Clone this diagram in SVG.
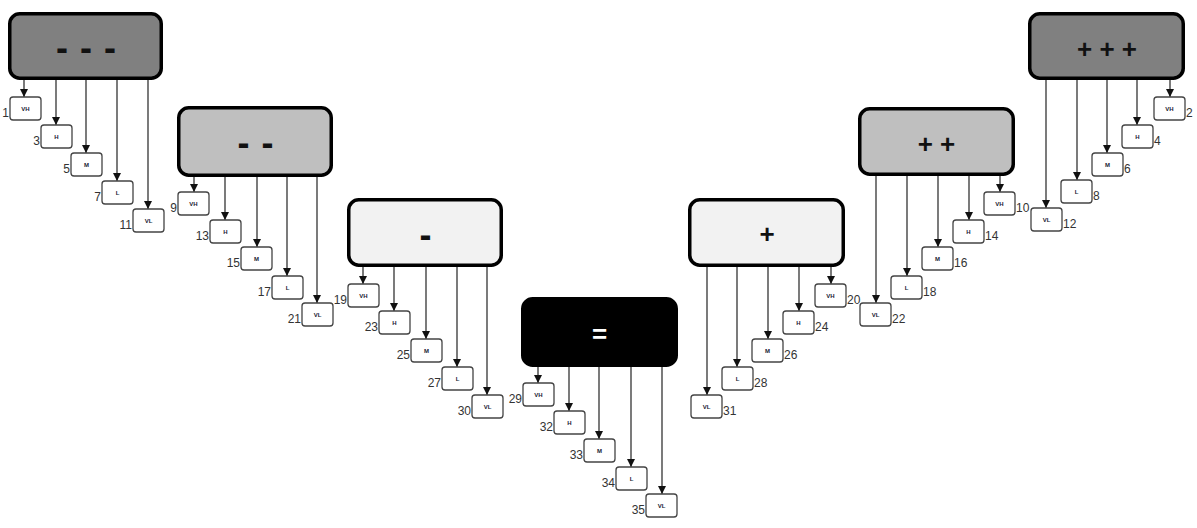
<svg xmlns="http://www.w3.org/2000/svg" width="1197" height="528" viewBox="0 0 1197 528">
<defs>
<marker id="ah" markerUnits="userSpaceOnUse" markerWidth="9" markerHeight="8" refX="8" refY="4" orient="auto">
<path d="M0,0 L8,4 L0,8 z" fill="#111"/>
</marker>
<style>
.big{stroke:#000;stroke-width:3.5}
.d3{fill:#808080}
.d2{fill:#bfbfbf}
.d1{fill:#f2f2f2}
.d0{fill:#000}
.sm{fill:#fff;stroke:#444;stroke-width:1.3}
.bt{font-family:"Liberation Sans",Arial,sans-serif;font-weight:bold;fill:#111;text-anchor:middle}
.st{font-family:"Liberation Sans",Arial,sans-serif;font-weight:bold;font-size:6px;fill:#1a1a33;text-anchor:middle}
.nl{font-family:"Liberation Sans",Arial,sans-serif;font-size:12px;fill:#333;text-anchor:end}
.nr{font-family:"Liberation Sans",Arial,sans-serif;font-size:12px;fill:#333;text-anchor:start}
.cn{stroke:#222;stroke-width:1.2;fill:none;marker-end:url(#ah)}
</style>
</defs>
<rect width="1197" height="528" fill="#fff"/>

<g id="connectors">
<path class="cn" d="M24,80V97"/><path class="cn" d="M56,80V125"/><path class="cn" d="M86,80V153"/><path class="cn" d="M117,80V181"/><path class="cn" d="M148,80V209"/>
<path class="cn" d="M194,177V192"/><path class="cn" d="M225,177V220"/><path class="cn" d="M257,177V247"/><path class="cn" d="M287,177V276"/><path class="cn" d="M317,177V303"/>
<path class="cn" d="M363,267V284"/><path class="cn" d="M394,267V311"/><path class="cn" d="M426,267V339"/><path class="cn" d="M457,267V367"/><path class="cn" d="M487,267V395"/>
<path class="cn" d="M538,367V383"/><path class="cn" d="M569,367V411"/><path class="cn" d="M599,367V439"/><path class="cn" d="M631,367V467"/><path class="cn" d="M662,367V494"/>
<path class="cn" d="M831,267V284"/><path class="cn" d="M799,267V311"/><path class="cn" d="M768,267V339"/><path class="cn" d="M737,267V367"/><path class="cn" d="M707,267V395"/>
<path class="cn" d="M1000,176V192"/><path class="cn" d="M969,176V220"/><path class="cn" d="M938,176V247"/><path class="cn" d="M907,176V276"/><path class="cn" d="M876,176V303"/>
<path class="cn" d="M1170,80V97"/><path class="cn" d="M1137,80V125"/><path class="cn" d="M1107,80V153"/><path class="cn" d="M1077,80V180"/><path class="cn" d="M1046,80V208"/>
</g>

<g id="n-minus3">
<rect class="big d3" x="9.75" y="13.75" width="151.5" height="64.5" rx="10"/>
<text class="bt" x="86.5" y="60" font-size="36" letter-spacing="1">- - -</text>
</g>
<g id="n-minus2">
<rect class="big d2" x="178.75" y="107.75" width="152.5" height="67.5" rx="10"/>
<text class="bt" x="256" y="155" font-size="36" letter-spacing="1">- -</text>
</g>
<g id="n-minus1">
<rect class="big d1" x="348.75" y="199.75" width="152.5" height="65.5" rx="10"/>
<text class="bt" x="425.5" y="247" font-size="36">-</text>
</g>
<g id="n-equal">
<rect class="big d0" x="522.75" y="298.75" width="153.5" height="66.5" rx="10"/>
<text class="bt" x="599.5" y="342.5" font-size="26" style="fill:#fff">=</text>
</g>
<g id="n-plus1">
<rect class="big d1" x="689.75" y="199.75" width="153.5" height="65.5" rx="10"/>
<text class="bt" x="767" y="243" font-size="26">+</text>
</g>
<g id="n-plus2">
<rect class="big d2" x="859.75" y="108.75" width="153.5" height="65.5" rx="10"/>
<text class="bt" x="936.5" y="153" font-size="26">+ +</text>
</g>
<g id="n-plus3">
<rect class="big d3" x="1029.75" y="13.75" width="153.5" height="64.5" rx="10"/>
<text class="bt" x="1107" y="58" font-size="26">+ + +</text>
</g>

<g id="s1"><rect class="sm" x="10" y="97" width="31" height="23" rx="3"/><text class="st" x="25.5" y="110.5">VH</text><text class="nl" x="9" y="117">1</text></g>
<g id="s3"><rect class="sm" x="41" y="125" width="31" height="23" rx="3"/><text class="st" x="56.5" y="138.5">H</text><text class="nl" x="40" y="145">3</text></g>
<g id="s5"><rect class="sm" x="71" y="153" width="31" height="23" rx="3"/><text class="st" x="86.5" y="166.5">M</text><text class="nl" x="70" y="173">5</text></g>
<g id="s7"><rect class="sm" x="102" y="181" width="31" height="23" rx="3"/><text class="st" x="117.5" y="194.5">L</text><text class="nl" x="101" y="201">7</text></g>
<g id="s11"><rect class="sm" x="133" y="209" width="31" height="23" rx="3"/><text class="st" x="148.5" y="222.5">VL</text><text class="nl" x="132" y="229">11</text></g>

<g id="s9"><rect class="sm" x="178" y="192" width="31" height="23" rx="3"/><text class="st" x="193.5" y="205.5">VH</text><text class="nl" x="177" y="212">9</text></g>
<g id="s13"><rect class="sm" x="210" y="220" width="31" height="23" rx="3"/><text class="st" x="225.5" y="233.5">H</text><text class="nl" x="209" y="240">13</text></g>
<g id="s15"><rect class="sm" x="241" y="247" width="31" height="23" rx="3"/><text class="st" x="256.5" y="260.5">M</text><text class="nl" x="240" y="267">15</text></g>
<g id="s17"><rect class="sm" x="272" y="276" width="31" height="23" rx="3"/><text class="st" x="287.5" y="289.5">L</text><text class="nl" x="271" y="296">17</text></g>
<g id="s21"><rect class="sm" x="302" y="303" width="31" height="23" rx="3"/><text class="st" x="317.5" y="316.5">VL</text><text class="nl" x="301" y="323">21</text></g>

<g id="s19"><rect class="sm" x="348" y="284" width="31" height="23" rx="3"/><text class="st" x="363.5" y="297.5">VH</text><text class="nl" x="347" y="304">19</text></g>
<g id="s23"><rect class="sm" x="379" y="311" width="31" height="23" rx="3"/><text class="st" x="394.5" y="324.5">H</text><text class="nl" x="378" y="331">23</text></g>
<g id="s25"><rect class="sm" x="411" y="339" width="31" height="23" rx="3"/><text class="st" x="426.5" y="352.5">M</text><text class="nl" x="410" y="359">25</text></g>
<g id="s27"><rect class="sm" x="442" y="367" width="31" height="23" rx="3"/><text class="st" x="457.5" y="380.5">L</text><text class="nl" x="441" y="387">27</text></g>
<g id="s30"><rect class="sm" x="472" y="395" width="31" height="23" rx="3"/><text class="st" x="487.5" y="408.5">VL</text><text class="nl" x="471" y="415">30</text></g>

<g id="s29"><rect class="sm" x="523" y="383" width="31" height="23" rx="3"/><text class="st" x="538.5" y="396.5">VH</text><text class="nl" x="522" y="403">29</text></g>
<g id="s32"><rect class="sm" x="554" y="411" width="31" height="23" rx="3"/><text class="st" x="569.5" y="424.5">H</text><text class="nl" x="553" y="431">32</text></g>
<g id="s33"><rect class="sm" x="584" y="439" width="31" height="23" rx="3"/><text class="st" x="599.5" y="452.5">M</text><text class="nl" x="583" y="459">33</text></g>
<g id="s34"><rect class="sm" x="616" y="467" width="31" height="23" rx="3"/><text class="st" x="631.5" y="480.5">L</text><text class="nl" x="615" y="487">34</text></g>
<g id="s35"><rect class="sm" x="646" y="494" width="31" height="23" rx="3"/><text class="st" x="661.5" y="507.5">VL</text><text class="nl" x="645" y="514">35</text></g>

<g id="s20"><rect class="sm" x="815" y="284" width="31" height="23" rx="3"/><text class="st" x="830.5" y="297.5">VH</text><text class="nr" x="847" y="304">20</text></g>
<g id="s24"><rect class="sm" x="783" y="311" width="31" height="23" rx="3"/><text class="st" x="798.5" y="324.5">H</text><text class="nr" x="815" y="331">24</text></g>
<g id="s26"><rect class="sm" x="752" y="339" width="31" height="23" rx="3"/><text class="st" x="767.5" y="352.5">M</text><text class="nr" x="784" y="359">26</text></g>
<g id="s28"><rect class="sm" x="722" y="367" width="31" height="23" rx="3"/><text class="st" x="737.5" y="380.5">L</text><text class="nr" x="754" y="387">28</text></g>
<g id="s31"><rect class="sm" x="691" y="395" width="31" height="23" rx="3"/><text class="st" x="706.5" y="408.5">VL</text><text class="nr" x="723" y="415">31</text></g>

<g id="s10"><rect class="sm" x="984" y="192" width="31" height="23" rx="3"/><text class="st" x="999.5" y="205.5">VH</text><text class="nr" x="1016" y="212">10</text></g>
<g id="s14"><rect class="sm" x="953" y="220" width="31" height="23" rx="3"/><text class="st" x="968.5" y="233.5">H</text><text class="nr" x="985" y="240">14</text></g>
<g id="s16"><rect class="sm" x="922" y="247" width="31" height="23" rx="3"/><text class="st" x="937.5" y="260.5">M</text><text class="nr" x="954" y="267">16</text></g>
<g id="s18"><rect class="sm" x="891" y="276" width="31" height="23" rx="3"/><text class="st" x="906.5" y="289.5">L</text><text class="nr" x="923" y="296">18</text></g>
<g id="s22"><rect class="sm" x="860" y="303" width="31" height="23" rx="3"/><text class="st" x="875.5" y="316.5">VL</text><text class="nr" x="892" y="323">22</text></g>

<g id="s2"><rect class="sm" x="1154" y="97" width="31" height="23" rx="3"/><text class="st" x="1169.5" y="110.5">VH</text><text class="nr" x="1186" y="117">2</text></g>
<g id="s4"><rect class="sm" x="1122" y="125" width="31" height="23" rx="3"/><text class="st" x="1137.5" y="138.5">H</text><text class="nr" x="1154" y="145">4</text></g>
<g id="s6"><rect class="sm" x="1092" y="153" width="31" height="23" rx="3"/><text class="st" x="1107.5" y="166.5">M</text><text class="nr" x="1124" y="173">6</text></g>
<g id="s8"><rect class="sm" x="1061" y="180" width="31" height="23" rx="3"/><text class="st" x="1076.5" y="193.5">L</text><text class="nr" x="1093" y="200">8</text></g>
<g id="s12"><rect class="sm" x="1031" y="208" width="31" height="23" rx="3"/><text class="st" x="1046.5" y="221.5">VL</text><text class="nr" x="1063" y="228">12</text></g>
</svg>
